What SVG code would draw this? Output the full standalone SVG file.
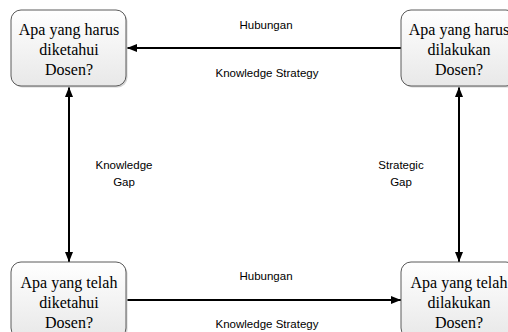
<svg xmlns="http://www.w3.org/2000/svg" width="508" height="332" viewBox="0 0 508 332">
<style>
.box{fill:url(#g);stroke:#5a5a5a;stroke-width:1}
.shadow{fill:#d4d4d4}
.bt{font-family:"Liberation Serif","Times New Roman",serif;font-size:16px;fill:#000;text-anchor:middle}
.lb{font-family:"Liberation Sans",Arial,sans-serif;font-size:11.5px;fill:#000;text-anchor:middle}
.ln{stroke:#000;stroke-width:2;fill:none}
</style>
<defs>
<linearGradient id="g" x1="0" y1="0" x2="0" y2="1">
<stop offset="0" stop-color="#ffffff"/>
<stop offset="1" stop-color="#e8e8e8"/>
</linearGradient>
<marker id="ah" viewBox="0 0 10 8" refX="10" refY="4" markerWidth="10" markerHeight="8" markerUnits="userSpaceOnUse" orient="auto-start-reverse">
<path d="M0,0 L10,4 L0,8 Z" fill="#000"/>
</marker>
</defs>
<rect width="508" height="332" fill="#fff"/>
<g id="connectors">
<line class="ln" x1="401" y1="48" x2="127" y2="48" marker-end="url(#ah)"/>
<line class="ln" x1="127" y1="300" x2="401" y2="300" marker-end="url(#ah)"/>
<line class="ln" x1="69" y1="87" x2="69" y2="262" marker-start="url(#ah)" marker-end="url(#ah)"/>
<line class="ln" x1="459" y1="87" x2="459" y2="262" marker-start="url(#ah)" marker-end="url(#ah)"/>
<text class="lb" x="266" y="29">Hubungan</text>
<text class="lb" x="267" y="77">Knowledge Strategy</text>
<text class="lb" x="266" y="280">Hubungan</text>
<text class="lb" x="267" y="328">Knowledge Strategy</text>
<text class="lb" x="124" y="169">Knowledge</text>
<text class="lb" x="124" y="186">Gap</text>
<text class="lb" x="401" y="169">Strategic</text>
<text class="lb" x="401" y="186">Gap</text>
</g>
<g id="n1">
<rect class="shadow" x="12.5" y="11.5" width="115" height="76" rx="10"/>
<rect class="box" x="11" y="10" width="115" height="76" rx="10"/>
<text class="bt" x="69" y="35">Apa yang harus</text>
<text class="bt" x="69" y="55">diketahui</text>
<text class="bt" x="69" y="75">Dosen?</text>
</g>
<g id="n2">
<rect class="shadow" x="402.5" y="11.5" width="115" height="76" rx="10"/>
<rect class="box" x="401" y="10" width="115" height="76" rx="10"/>
<text class="bt" x="459" y="35">Apa yang harus</text>
<text class="bt" x="459" y="55">dilakukan</text>
<text class="bt" x="459" y="75">Dosen?</text>
</g>
<g id="n3">
<rect class="shadow" x="12.5" y="263.5" width="115" height="76" rx="10"/>
<rect class="box" x="11" y="262" width="115" height="76" rx="10"/>
<text class="bt" x="69" y="288">Apa yang telah</text>
<text class="bt" x="69" y="308">diketahui</text>
<text class="bt" x="69" y="328">Dosen?</text>
</g>
<g id="n4">
<rect class="shadow" x="402.5" y="263.5" width="115" height="76" rx="10"/>
<rect class="box" x="401" y="262" width="115" height="76" rx="10"/>
<text class="bt" x="459" y="288">Apa yang telah</text>
<text class="bt" x="459" y="308">dilakukan</text>
<text class="bt" x="459" y="328">Dosen?</text>
</g>
</svg>
